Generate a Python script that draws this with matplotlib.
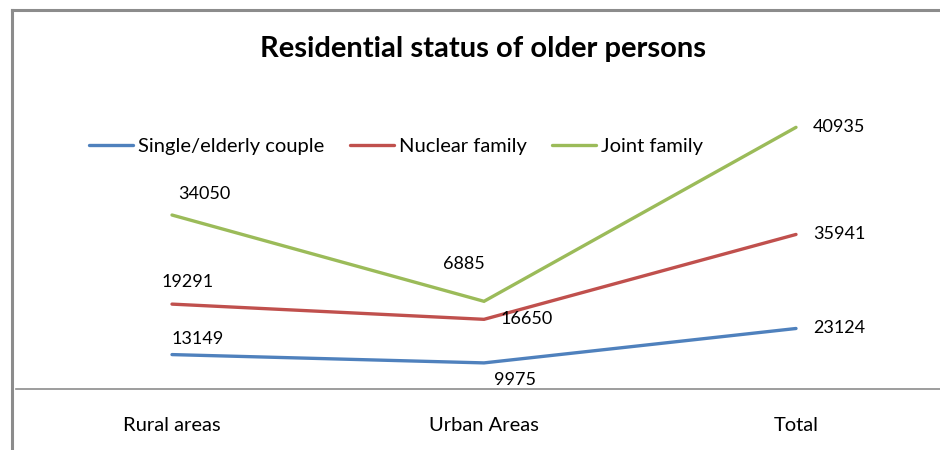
import numpy as np
import matplotlib.pyplot as plt
from matplotlib.lines import Line2D

plt.rcParams['font.family'] = ['Lato', 'DejaVu Sans']

categories = ['Rural areas', 'Urban Areas', 'Total']
series_names = ['Single/elderly couple', 'Nuclear family', 'Joint family']
single = [13149, 9975, 23124]
nuclear = [19291, 16650, 35941]
joint = [34050, 6885, 40935]
colors = ['#4F81BD', '#C0504D', '#9BBB59']

# label offsets in pixels (dx, dy) per series, per category
offsets = [
    [(0, 16), (10, -17), (17, 0)],
    [(-10, 22), (17, 0), (17, 0)],
    [(6, 21), (-41, 37), (17, 0)],
]

fig = plt.figure(figsize=(9.4, 4.5), dpi=100)
W, H = 940, 450

# outer chart frame (left and top edges only visible)
fig.add_artist(Line2D([12 / W, 12 / W], [0, 1 - 10 / H], transform=fig.transFigure,
                      color='#8c8c8c', linewidth=2.2))
fig.add_artist(Line2D([12 / W, 1.05], [1 - 10 / H, 1 - 10 / H], transform=fig.transFigure,
                      color='#8c8c8c', linewidth=2.2))

ax = fig.add_axes([16 / W, (H - 389) / H, 936 / W, 314 / H])
ax.set_xlim(-0.5, 2.5)
ax.set_ylim(0, 120000)
for s in ax.spines.values():
    s.set_visible(False)
ax.set_yticks([])
ax.set_xticks([])
ax.axhline(0, color='#8c8c8c', linewidth=1.2, clip_on=False)

x = np.arange(len(categories))
stack = np.zeros(len(categories))
handles = []
for i, vals in enumerate([single, nuclear, joint]):
    stack = stack + np.array(vals)
    h, = ax.plot(x, stack, color=colors[i], linewidth=2.4,
                 solid_capstyle='round', solid_joinstyle='miter')
    handles.append(h)
    for j, v in enumerate(vals):
        ax.annotate(str(v), (x[j], stack[j]), xytext=offsets[i][j],
                    textcoords='offset pixels', ha='left', va='center',
                    fontsize=13, color='black')

for j, c in enumerate(categories):
    ax.text(x[j], -14000, c, ha='center', va='center', fontsize=14.5)

fig.text(483 / W, 1 - 49 / H, 'Residential status of older persons',
         ha='center', va='center', fontsize=21, fontweight='bold')

fig.legend(handles, series_names, loc='center', bbox_to_anchor=(396 / W, 1 - 146 / H),
           ncol=3, frameon=False, fontsize=14.5, handlelength=2.2,
           handletextpad=0.25, columnspacing=1.25)

fig.savefig('out.png', dpi=100)
